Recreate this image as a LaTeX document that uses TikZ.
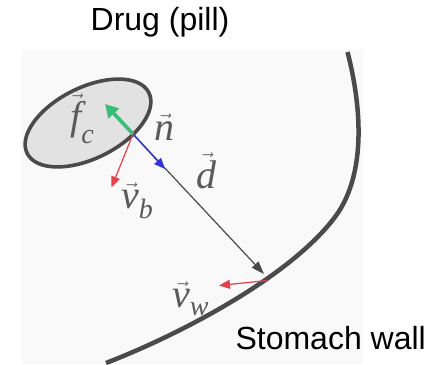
\documentclass[tikz,border=0pt]{standalone}
\usepackage{amsmath}
\usepackage{fontspec}
\setmainfont{Liberation Sans}
\newfontfamily\tms{Liberation Serif}
\usetikzlibrary{arrows.meta}
\definecolor{wallgray}{HTML}{4A4A4A}
\definecolor{pillfill}{HTML}{E2E2E2}
\definecolor{labgray}{HTML}{5A5A5A}
\definecolor{vred}{HTML}{E8404A}
\definecolor{nblue}{HTML}{3434D8}
\definecolor{fgreen}{HTML}{3DBB78}
\definecolor{bgpanel}{HTML}{F9F9F9}
\newcommand\vlab[2]{$\vec{\text{\tms\itshape #1}}_{\text{\raisebox{-5pt}{\tms\itshape #2}}}$}
\newcommand\vlabn[1]{$\vec{\text{\tms\itshape #1}}$}
\tikzset{
  title/.style={font=\fontsize{32}{34}\selectfont, text=black, inner sep=0pt, anchor=base},
  mathlab/.style={font=\fontsize{40}{42}\selectfont, text=labgray, inner sep=0pt, anchor=base west},
  redarrow/.style={draw=vred, line width=1.2pt, -{Triangle[length=11pt,width=9pt]}},
}
\begin{document}
\begin{tikzpicture}[x=1pt,y=-1pt]
\useasboundingbox (0,0) rectangle (446,364);
\fill[white] (0,0) rectangle (446,364);
\fill[bgpanel] (22,50) rectangle (363,364);
% pill
\draw[draw=wallgray, fill=pillfill, line width=3.6pt, rotate around={26.5:(88,123)}] (88,123) ellipse [x radius=68, y radius=35.5];
\coordinate (P) at (133,134);
% wall
\draw[wallgray, line width=4.5pt] (347.5,52) .. controls (363,112) and (365,177) .. (335,217)
   .. controls (290,277) and (180.4,334.2) .. (106,363);
\coordinate (W) at (267,280.5);
\coordinate (Dend) at (264,274);
\coordinate (Ntip) at (165,169);
\coordinate (Ftip) at (105,104);
\coordinate (Btip) at (111.5,187.5);
\coordinate (Wtip) at (219,285.5);
% arrows
\draw[wallgray, line width=1.2pt, -{Triangle[length=13pt,width=9pt]}] (P) -- (Dend);
\draw[nblue, line width=1.4pt, -{Triangle[length=11pt,width=9pt]}] (P) -- (Ntip);
\draw[redarrow] (P) -- (Btip);
\draw[redarrow] (W) -- (Wtip);
\draw[fgreen, line width=3.6pt, -{Triangle[length=13pt,width=14pt]}] (P) -- (Ftip);
% labels
\node[title] (drug) at (160,30.7) {Drug (pill)};
\node[title] (wall) at (330.7,349.3) {Stomach wall};
\node[mathlab] (fc) at (70,129) {\vlab{f}{c}};
\node[mathlab] (n) at (154,140) {\vlabn{n}};
\node[mathlab] (d) at (196,188) {\vlabn{d}};
\node[mathlab] (vb) at (121,208) {\vlab{v}{b}};
\node[mathlab] (vw) at (172,307) {\vlab{v}{w}};
\end{tikzpicture}
\end{document}
